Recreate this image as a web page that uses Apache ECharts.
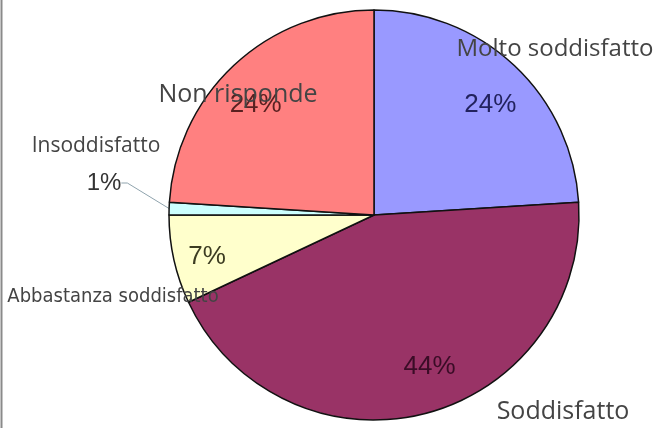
<!DOCTYPE html>
<html>
<head>
<meta charset="utf-8">
<script src="https://cdn.jsdelivr.net/npm/echarts@6/dist/echarts.min.js"></script>
<style>
html,body{margin:0;padding:0;background:#fff;}
#chart{width:666px;height:428px;}
</style>
</head>
<body>
<div id="chart"></div>
<script>
// Data
var categories = ['Molto soddisfatto', 'Soddisfatto', 'Abbastanza soddisfatto', 'Insoddisfatto', 'Non risponde'];
var values = [24, 44, 7, 1, 24];

// Styles
var colors = ['#9999FF', '#993366', '#FFFFCC', '#CCFFFF', '#FF8080'];
var pctColors = ['#22225e', '#3a0c26', '#3c3c22', '#333333', '#5a2020'];
// label anchor positions for category names (centre points)
var namePos = [[555, 49], [563, 412], [113, 297], [96, 146], [238, 95]];
var nameFont = ['Open Sans', 'Open Sans', "'Liberation Sans Narrow', 'DejaVu Sans Condensed', 'Roboto Condensed', 'Arial Narrow', Roboto", 'Open Sans', 'Open Sans'];
var nameSize = [24, 25, 20, 21, 25];
var pctShift = [[2, 12], [14, -10], [-4, 5], [0, 0], [-4, 12]];
var center = [374, 215];
var R = 205;

var chart = echarts.init(document.getElementById('chart'), null, {renderer: 'canvas'});

var sliceData = categories.map(function (c, i) {
  return {name: c, value: values[i], itemStyle: {color: colors[i]}};
});
var pctData = categories.map(function (c, i) {
  var d = {name: c, value: values[i], label: {color: pctColors[i]}};
  if (i === 3) {
    d.label = {position: 'outside', color: '#333', fontSize: 24};
    d.labelLine = {show: true, length: 10, length2: 6, lineStyle: {color: '#8fa3ad', width: 1}};
  }
  return d;
});
var nameData = categories.map(function (c, i) {
  return {name: c, value: values[i],
    label: {fontFamily: nameFont[i], fontSize: nameSize[i]}};
});

chart.setOption({
  animation: false,
  graphic: [{
    type: 'line', shape: {x1: 1.5, y1: 0, x2: 1.5, y2: 428},
    style: {stroke: '#8a8a8a', lineWidth: 2}
  }],
  series: [
    {
      type: 'pie', center: center, radius: R, startAngle: 90, clockwise: true,
      data: sliceData, silent: true,
      label: {show: false}, labelLine: {show: false},
      itemStyle: {borderColor: '#111', borderWidth: 1.5}
    },
    {
      type: 'pie', center: center, radius: [R * 0.6, R], startAngle: 90, clockwise: true,
      data: pctData, silent: true,
      itemStyle: {color: 'rgba(0,0,0,0)'},
      label: {show: true, position: 'inside', formatter: '{c}%',
        fontFamily: 'Liberation Sans', fontSize: 26, overflow: 'none'},
      labelLine: {show: false},
      labelLayout: function (p) {
        if (p.dataIndex === 3) {
          return {x: 104, y: 183, align: 'center', verticalAlign: 'middle'};
        }
        var s = pctShift[p.dataIndex];
        return {dx: s[0], dy: s[1]};
      }
    },
    {
      type: 'pie', center: center, radius: R, startAngle: 90, clockwise: true,
      data: nameData, silent: true,
      itemStyle: {color: 'rgba(0,0,0,0)'},
      label: {show: true, position: 'outside', formatter: '{b}', color: '#444444',
        overflow: 'none', width: 400},
      labelLine: {show: false},
      labelLayout: function (p) {
        var pos = namePos[p.dataIndex];
        return {x: pos[0], y: pos[1], align: 'center', verticalAlign: 'middle'};
      }
    }
  ]
});
</script>
</body>
</html>
